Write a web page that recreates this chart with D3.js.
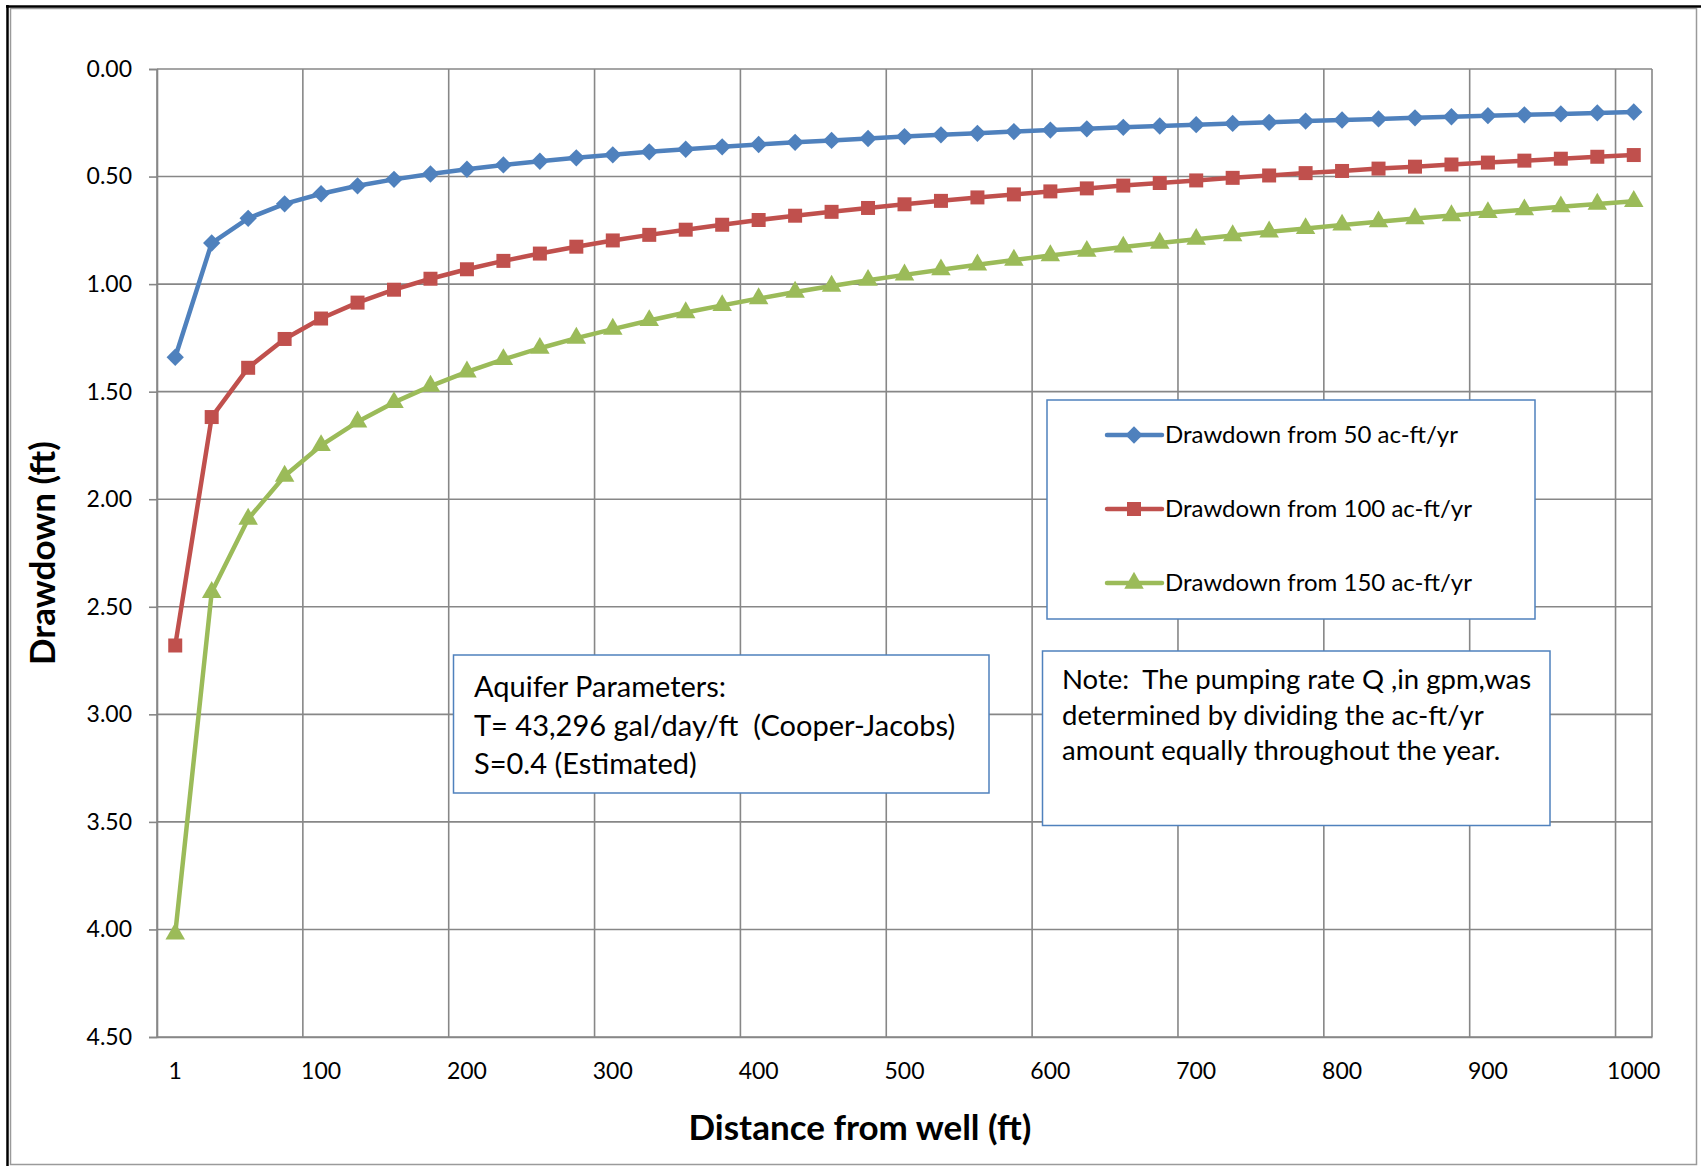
<!DOCTYPE html>
<html><head><meta charset="utf-8">
<script src="https://cdn.jsdelivr.net/npm/d3@7"></script>
<style>
body{margin:0;background:#fff}
svg{display:block}
text{font-family:Lato,"Open Sans",sans-serif;fill:#000}
</style>
</head><body>
<svg id="chart" width="1701" height="1166"></svg>
<script>
// ---- data ----
const distances = [1,25,50,75,100,125,150,175,200,225,250,275,300,325,350,375,400,425,450,475,500,
  525,550,575,600,625,650,675,700,725,750,775,800,825,850,875,900,925,950,975,1000];
const xTickLabels = ["1","100","200","300","400","500","600","700","800","900","1000"];
const yTicks = [0,0.5,1,1.5,2,2.5,3,3.5,4,4.5];
const seriesNames = ["Drawdown from 50 ac-ft/yr","Drawdown from 100 ac-ft/yr","Drawdown from 150 ac-ft/yr"];
const drawdown50 = [1.34,0.809,0.694,0.627,0.58,0.543,0.513,0.488,0.466,0.446,0.429,0.413,0.399,0.385,0.373,
  0.362,0.351,0.341,0.332,0.323,0.314,0.306,0.299,0.291,0.284,0.278,0.271,0.265,0.259,0.253,0.248,0.242,
  0.237,0.232,0.227,0.222,0.217,0.213,0.209,0.204,0.20];
const drawdown100 = [2.68,1.618,1.389,1.255,1.16,1.086,1.026,0.975,0.931,0.892,0.858,0.826,0.797,0.771,0.747,
  0.724,0.702,0.682,0.664,0.646,0.629,0.613,0.597,0.583,0.569,0.555,0.542,0.530,0.518,0.506,0.495,0.484,
  0.474,0.463,0.454,0.444,0.435,0.426,0.417,0.408,0.40];
const drawdown150 = [4.02,2.433,2.092,1.892,1.75,1.640,1.550,1.474,1.408,1.350,1.298,1.251,1.209,1.169,1.132,
  1.099,1.067,1.037,1.009,0.982,0.957,0.933,0.910,0.888,0.867,0.847,0.827,0.809,0.791,0.774,0.757,0.741,
  0.725,0.710,0.695,0.681,0.667,0.654,0.640,0.628,0.615];
const aquiferText = ["Aquifer Parameters:","T= 43,296 gal/day/ft  (Cooper-Jacobs)","S=0.4 (Estimated)"];
const noteText = ["Note:  The pumping rate Q ,in gpm,was","determined by dividing the ac-ft/yr","amount equally throughout the year."];

// ---- setup ----
const svg = d3.select("#chart");
const colors = ["#4F81BD","#C0504D","#9BBB59"];
const shapes = ["diamond","square","triangle"];
const gridColor = "#878787";
const plot = {left:157, right:1652, top:69, bottom:1037};

// frame
svg.append("rect").attr("x",10.5).attr("y",8.5).attr("width",1686).attr("height",1156)
  .attr("fill","none").attr("stroke","#9a9a9a").attr("stroke-width",1.5);
svg.append("line").attr("x1",7.5).attr("x2",7.5).attr("y1",5).attr("y2",1166).attr("stroke","#000").attr("stroke-width",2.5);
svg.append("line").attr("x1",6).attr("x2",1701).attr("y1",6.5).attr("y2",6.5).attr("stroke","#000").attr("stroke-width",2.5);

const x = d3.scaleBand().domain(distances).range([plot.left, plot.right]).padding(0);
const y = d3.scaleLinear().domain([0,4.5]).range([plot.top, plot.bottom]);

// horizontal gridlines
svg.append("g").selectAll("line").data(yTicks).join("line")
  .attr("x1",plot.left).attr("x2",plot.right)
  .attr("y1",d=>y(d)).attr("y2",d=>y(d))
  .attr("stroke",gridColor).attr("stroke-width",1.6);

// vertical gridlines at category boundaries every 4 categories
const vIdx = d3.range(0, distances.length+1, 4).concat([distances.length]);
svg.append("g").selectAll("line").data(vIdx).join("line")
  .attr("x1",i=> i<distances.length ? x(distances[i]) : plot.right)
  .attr("x2",i=> i<distances.length ? x(distances[i]) : plot.right)
  .attr("y1",plot.top).attr("y2",plot.bottom)
  .attr("stroke",gridColor).attr("stroke-width",1.6);

// y axis
const yAxis = d3.axisLeft(y).tickValues(yTicks).tickFormat(d3.format(".2f")).tickSize(8).tickPadding(17);
const gy = svg.append("g").attr("transform",`translate(${plot.left},0)`).call(yAxis);
gy.select(".domain").attr("stroke",gridColor).attr("stroke-width",1.6);
gy.selectAll(".tick line").attr("stroke",gridColor).attr("stroke-width",1.6);
gy.selectAll(".tick text").attr("font-size",23).attr("font-family","Lato").attr("fill","#000");

// x axis
const labelIdx = d3.range(0, distances.length, 4);
const xAxis = d3.axisBottom(x).tickValues(labelIdx.map(i=>distances[i]))
  .tickFormat((d,i)=>xTickLabels[i]).tickSize(0).tickPadding(26);
const gx = svg.append("g").attr("transform",`translate(0,${plot.bottom})`).call(xAxis);
gx.select(".domain").attr("stroke",gridColor).attr("stroke-width",1.6);
gx.selectAll(".tick text").attr("font-size",23).attr("font-family","Lato").attr("fill","#000");

// axis titles
svg.append("text").attr("x",860).attr("y",1140).attr("text-anchor","middle")
  .attr("font-size",35).attr("font-weight","bold").text("Distance from well (ft)");
svg.append("text").attr("transform","translate(55,553) rotate(-90)").attr("text-anchor","middle")
  .attr("font-size",35).attr("font-weight","bold").text("Drawdown (ft)");

// marker helper
function marker(sel, shape, color){
  if(shape==="diamond"){
    sel.append("path").attr("d",d3.symbol(d3.symbolSquare,150)()).attr("transform","rotate(45)")
      .attr("fill",color);
  } else if(shape==="square"){
    sel.append("path").attr("d",d3.symbol(d3.symbolSquare,196)()).attr("fill",color);
  } else {
    sel.append("path").attr("d",d3.symbol(d3.symbolTriangle,165)()).attr("fill",color);
  }
}

const allSeries = [drawdown50, drawdown100, drawdown150];
const cx = d => x(d) + x.bandwidth()/2;
const line = d3.line().x((d,i)=>cx(distances[i])).y(d=>y(d));

allSeries.forEach((vals,si)=>{
  const g = svg.append("g");
  g.append("path").datum(vals).attr("d",line).attr("fill","none")
    .attr("stroke",colors[si]).attr("stroke-width",4.5).attr("stroke-linejoin","round");
  g.selectAll("g.m").data(vals).join("g").attr("class","m")
    .attr("transform",(d,i)=>`translate(${cx(distances[i])},${y(d)})`)
    .each(function(){ marker(d3.select(this), shapes[si], colors[si]); });
});

// legend
const lg = svg.append("g");
lg.append("rect").attr("x",1047).attr("y",400).attr("width",488).attr("height",219)
  .attr("fill","#fff").attr("stroke","#4F81BD").attr("stroke-width",1.5);
const legendRows = [435,509,583];
seriesNames.forEach((name,si)=>{
  const r = lg.append("g");
  r.append("line").attr("x1",1107).attr("x2",1162).attr("y1",legendRows[si]).attr("y2",legendRows[si])
    .attr("stroke",colors[si]).attr("stroke-width",4.5).attr("stroke-linecap","round");
  const m = r.append("g").attr("transform",`translate(1134,${legendRows[si]})`);
  marker(m, shapes[si], colors[si]);
  r.append("text").attr("x",1165).attr("y",legendRows[si]+8).attr("font-size",24).text(name);
});

// text boxes
function textBox(x0,y0,w,h,lines,tx,baselines,fs){
  const g = svg.append("g");
  g.append("rect").attr("x",x0).attr("y",y0).attr("width",w).attr("height",h)
    .attr("fill","#fff").attr("stroke","#4F81BD").attr("stroke-width",1.5);
  lines.forEach((t,i)=>g.append("text").attr("x",tx).attr("y",baselines[i]).attr("font-size",fs)
    .attr("xml:space","preserve").style("white-space","pre").text(t));
}
textBox(453.5,655,535.5,138,aquiferText,474,[697,736,774],29);
textBox(1042.5,651,507.5,174.5,noteText,1062,[689,725,760],27.5);
</script>
</body></html>
